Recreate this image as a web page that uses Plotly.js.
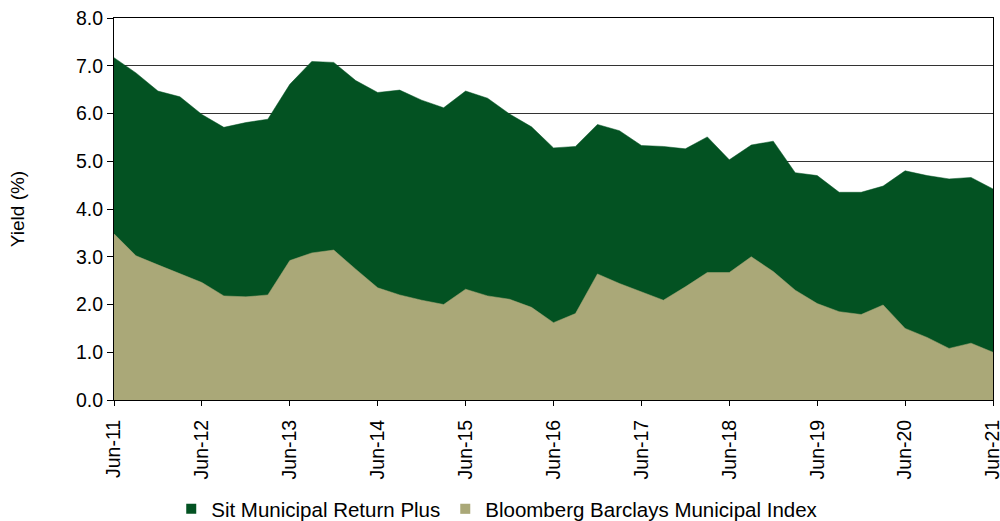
<!DOCTYPE html>
<html>
<head>
<meta charset="utf-8">
<script src="https://cdn.plot.ly/plotly-3.0.1.min.js"></script>
<style>html,body{margin:0;padding:0;background:#fff}#chart{width:1000px;height:521px}</style>
</head>
<body>
<div id="chart"></div>
<script>
const quarters = [
  "Jun-11","Sep-11","Dec-11",
  "Mar-12","Jun-12","Sep-12","Dec-12",
  "Mar-13","Jun-13","Sep-13","Dec-13",
  "Mar-14","Jun-14","Sep-14","Dec-14",
  "Mar-15","Jun-15","Sep-15","Dec-15",
  "Mar-16","Jun-16","Sep-16","Dec-16",
  "Mar-17","Jun-17","Sep-17","Dec-17",
  "Mar-18","Jun-18","Sep-18","Dec-18",
  "Mar-19","Jun-19","Sep-19","Dec-19",
  "Mar-20","Jun-20","Sep-20","Dec-20",
  "Mar-21","Jun-21"
];
const sitReturnPlus = [
  7.17, 6.85, 6.47,
  6.35, 5.98, 5.71, 5.81,
  5.88, 6.61, 7.09, 7.07,
  6.69, 6.44, 6.49, 6.28,
  6.12, 6.47, 6.32, 5.99,
  5.72, 5.28, 5.31, 5.77,
  5.64, 5.33, 5.31, 5.26,
  5.51, 5.03, 5.34, 5.42,
  4.76, 4.70, 4.35, 4.35,
  4.48, 4.80, 4.70, 4.63,
  4.66, 4.42
];
const bbMuniIndex = [
  3.48, 3.02, 2.83,
  2.64, 2.46, 2.18, 2.16,
  2.20, 2.92, 3.08, 3.14,
  2.74, 2.35, 2.20, 2.09,
  2.00, 2.32, 2.18, 2.11,
  1.94, 1.62, 1.81, 2.64,
  2.44, 2.27, 2.09, 2.37,
  2.67, 2.67, 3.00, 2.69,
  2.30, 2.02, 1.85, 1.79,
  1.99, 1.50, 1.31, 1.08,
  1.19, 1.00
];
const yearTicks = ["Jun-11","Jun-12","Jun-13","Jun-14","Jun-15","Jun-16","Jun-17","Jun-18","Jun-19","Jun-20","Jun-21"];
const seriesNames = ["Sit Municipal Return Plus", "Bloomberg Barclays Municipal Index"];

const GREEN = "#035222";
const TAN = "#AAA878";
const FONT = "Liberation Sans, Arial, sans-serif";

const traces = [
  {x: quarters, y: sitReturnPlus, type: "scatter", mode: "lines", fill: "tozeroy",
   fillcolor: GREEN, line: {color: GREEN, width: 0.5}, showlegend: false, hoverinfo: "x+y"},
  {x: quarters, y: bbMuniIndex, type: "scatter", mode: "lines", fill: "tozeroy",
   fillcolor: TAN, line: {color: TAN, width: 0.5}, showlegend: false, hoverinfo: "x+y"},
  {x: [null], y: [null], type: "scatter", mode: "markers", name: seriesNames[0],
   marker: {symbol: "square", color: GREEN, size: 10}},
  {x: [null], y: [null], type: "scatter", mode: "markers", name: seriesNames[1],
   marker: {symbol: "square", color: TAN, size: 10}}
];

const layout = {
  width: 1000, height: 521,
  margin: {l: 114, r: 7, t: 18, b: 121, autoexpand: false},
  paper_bgcolor: "#fff", plot_bgcolor: "#fff",
  font: {family: FONT, size: 20, color: "#000"},
  showlegend: true,
  legend: {orientation: "h", x: 0.436, xanchor: "center", yref: "container", y: 0.023, yanchor: "middle",
           font: {family: FONT, size: 20.5, color: "#000"}, itemwidth: 30, tracegroupgap: 0},
  xaxis: {
    type: "category", categoryorder: "array", categoryarray: quarters,
    range: [0, quarters.length - 1], automargin: false,
    tickmode: "array", tickvals: yearTicks, ticktext: yearTicks,
    tickangle: -90, tickfont: {family: FONT, size: 19.5, color: "#000"},
    ticks: "outside", ticklen: 5, tickcolor: "#000", tickwidth: 1, ticklabelstandoff: 6,
    showgrid: false, zeroline: false,
    showline: true, linecolor: "#000", linewidth: 1, mirror: true,
    fixedrange: true
  },
  yaxis: {
    range: [0, 8], dtick: 1, tick0: 0, tickformat: ".1f", automargin: false,
    tickfont: {family: FONT, size: 19.5, color: "#000"},
    ticks: "outside", ticklen: 6, tickcolor: "#000", tickwidth: 1,
    showgrid: true, gridcolor: "#333", gridwidth: 1,
    zeroline: false,
    showline: true, linecolor: "#000", linewidth: 1, mirror: true,
    title: {text: "Yield (%)", font: {family: FONT, size: 19, color: "#000"}, standoff: 46},
    fixedrange: true
  }
};

Plotly.newPlot("chart", traces, layout, {displayModeBar: false, staticPlot: true});
</script>
</body>
</html>
